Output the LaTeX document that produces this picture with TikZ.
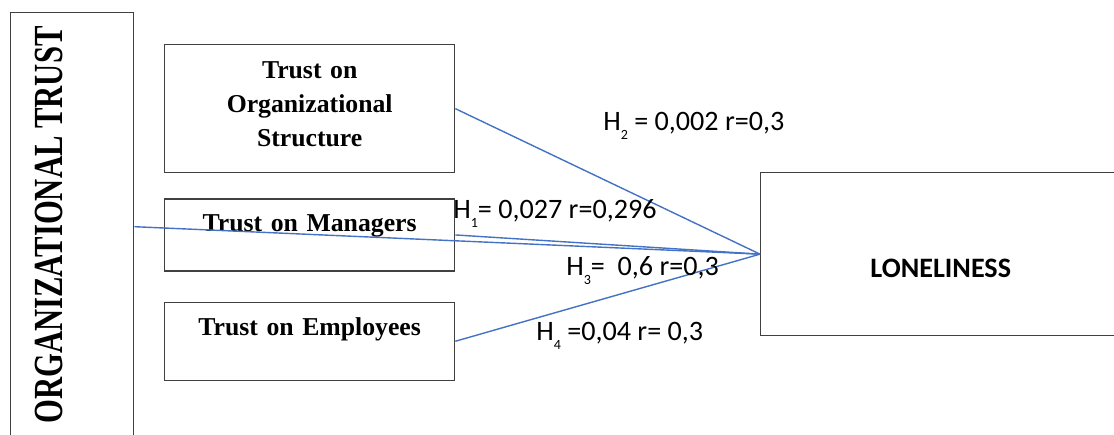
\documentclass[tikz,border=0pt]{standalone}
\usepackage{fontspec}
\setmainfont{Liberation Serif}
\newfontfamily\calibri{Carlito}
\usetikzlibrary{positioning}
\definecolor{hypblue}{HTML}{4472C4}
\definecolor{boxgray}{HTML}{404040}
\newcommand{\hsub}[1]{H\raisebox{-0.32em}{\fontsize{10pt}{10pt}\selectfont #1}}

\begin{document}
\begin{tikzpicture}[
    x=0.025cm, y=-0.025cm,
    frame/.style={draw=boxgray, line width=0.9pt, inner sep=0pt},
    box/.style={frame, anchor=north west, text width=7.25cm, align=center,
      font=\fontsize{18.3pt}{24.2pt}\selectfont\bfseries},
    hyp/.style={inner sep=0pt, anchor=base west, font=\calibri\fontsize{20pt}{24pt}\selectfont},
    link/.style={line width=1pt, draw=hypblue}
  ]
    \clip (0,0) rectangle (1114,435);
    % left column
    \node[frame, anchor=north west, minimum width=3.075cm, minimum height=10.7cm] (org) at (10,12) {};
    \node[rotate=90, anchor=base, inner sep=0pt, font=\fontsize{21.8pt}{24pt}\selectfont\bfseries] (orgtext) at (62,225) {\scalebox{1}[1.35]{ORGANIZATIONAL TRUST}};
    % dimensions
    \node[box, text height=0.85cm, text depth=2.35cm] (orgstr) at (164,44) {Trust on\\Organizational\\Structure};
    \node[box, text height=0.825cm, text depth=0.975cm, below=0.625cm of orgstr] (mgr) {Trust on Managers};
    \node[box, text height=0.825cm, text depth=1.125cm, below=0.75cm of mgr] (emp) {Trust on Employees};
    % outcome
    \node[frame, anchor=north west, text width=9cm, align=center, text height=2.625cm, text depth=1.45cm,
      font=\calibri\bfseries\fontsize{20pt}{24pt}\selectfont] (lone) at (760,172) {LONELINESS};
    % links
    \draw[link] (orgstr.east) -- (lone.west);
    \draw[link] (org.east) -- (lone.west);
    \draw[link] (mgr.east) -- (lone.west);
    \draw[link] (emp.east) -- (lone.west);
    % hypotheses
    \node[hyp] (h2) at (603,130) {\hsub{2} = 0,002 r=0,3};
    \node[hyp] (h1) at (453,218) {\hsub{1}= 0,027 r=0,296};
    \node[hyp] (h3) at (566,275) {\hsub{3}=\ \ 0,6 r=0,3};
    \node[hyp] (h4) at (536,340) {\hsub{4} =0,04 r= 0,3};
\end{tikzpicture}
\end{document}
